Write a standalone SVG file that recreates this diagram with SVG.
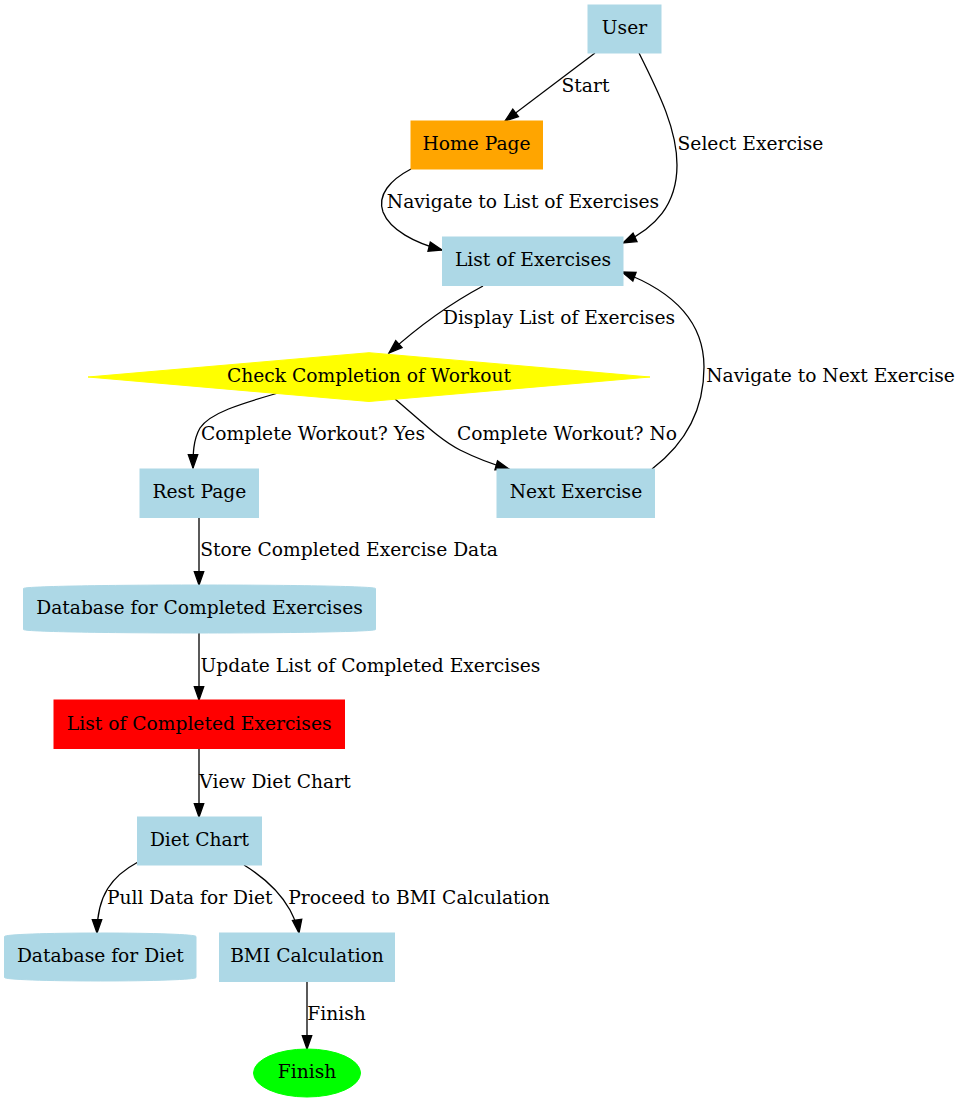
<svg xmlns="http://www.w3.org/2000/svg" width="962" height="1103" viewBox="0 0 962 1103">
<style>
text{font-family:"DejaVu Serif","Liberation Serif",serif;font-size:18.67px;fill:#000;text-anchor:middle}
.e{fill:none;stroke:#000;stroke-width:1.3;marker-end:url(#ah)}
.lb{fill:#add8e6;stroke:#add8e6}
</style>
<defs>
<marker id="ah" markerUnits="userSpaceOnUse" markerWidth="18" markerHeight="14" viewBox="-2 -2 18 14" refX="13.3" refY="4.7" orient="auto">
<path d="M0,0 L13.3,4.7 L0,9.4 Z" fill="#000" stroke="#000" stroke-width="1.3"/>
</marker>
</defs>
<rect width="962" height="1103" fill="#fff"/>
<g id="edges">
<path class="e" d="M595,53 L505,121"/>
<path class="e" d="M639,53 C660,95 677,130 677,165 C677,205 655,228 623,243"/>
<path class="e" d="M411,169 C390,180 377,195 383,212 C390,230 415,243 442,250"/>
<path class="e" d="M483,286 C455,301 420,325 389,353"/>
<path class="e" d="M278,393 C240,404 210,413 200,428 C193,440 193,455 193,468"/>
<path class="e" d="M395,399 C420,420 440,440 460,450 C480,460 495,465 509,469"/>
<path class="e" d="M652,469 C690,440 704,405 704,367 C704,320 670,290 622,272"/>
<path class="e" d="M199,518 L199,585"/>
<path class="e" d="M199,633 L199,700"/>
<path class="e" d="M199,748 L199,817"/>
<path class="e" d="M138,862 C112,876 97,895 97,933"/>
<path class="e" d="M244,865 C265,878 280,892 290,910 C295,920 298,926 299,933"/>
<path class="e" d="M307,981 L307,1049"/>
<text x="585.5" y="91.7">Start</text>
<text x="750.5" y="150">Select Exercise</text>
<text x="523" y="207.7">Navigate to List of Exercises</text>
<text x="559" y="324">Display List of Exercises</text>
<text x="830.5" y="381.7">Navigate to Next Exercise</text>
<text x="313" y="439.5">Complete Workout? Yes</text>
<text x="567" y="439.5">Complete Workout? No</text>
<text x="349" y="556">Store Completed Exercise Data</text>
<text x="370.5" y="671.7">Update List of Completed Exercises</text>
<text x="275" y="787.5">View Diet Chart</text>
<text x="189.7" y="904.3">Pull Data for Diet</text>
<text x="419" y="904.3">Proceed to BMI Calculation</text>
<text x="336.5" y="1020">Finish</text>
</g>
<g id="user"><rect class="lb" x="588" y="5" width="73" height="48"/><text x="624.5" y="34">User</text></g>
<g id="home"><rect x="411" y="121" width="131.5" height="48" fill="#ffa500" stroke="#ffa500"/><text x="476.5" y="150">Home Page</text></g>
<g id="list"><rect class="lb" x="442.5" y="237" width="180.5" height="48.5"/><text x="533" y="266">List of Exercises</text></g>
<g id="check"><polygon points="88,377 369,352.7 650,377 369,401.5" fill="#ffff00" stroke="#ffff00"/><text x="369" y="381.7">Check Completion of Workout</text></g>
<g id="rest"><rect class="lb" x="140" y="469" width="118.5" height="48.5"/><text x="199.4" y="497.5">Rest Page</text></g>
<g id="next"><rect class="lb" x="497" y="469" width="157.5" height="48.5"/><text x="576" y="497.5">Next Exercise</text></g>
<g id="dbcompleted"><path class="lb" d="M23.5,588.5 C23.5,586.5 102.3,585 199.5,585 C296.7,585 375.5,586.5 375.5,588.5 L375.5,629.5 C375.5,631.5 296.7,633 199.5,633 C102.3,633 23.5,631.5 23.5,629.5 Z"/><text x="199.5" y="614">Database for Completed Exercises</text></g>
<g id="completed"><rect x="54" y="700" width="290.5" height="48.5" fill="#ff0000" stroke="#ff0000"/><text x="199.2" y="729.5">List of Completed Exercises</text></g>
<g id="diet"><rect class="lb" x="137.5" y="817" width="124" height="48"/><text x="199.5" y="846">Diet Chart</text></g>
<g id="dbdiet"><path class="lb" d="M4.5,936.5 C4.5,934.5 47.5,933 100.3,933 C153.1,933 196,934.5 196,936.5 L196,977.5 C196,979.5 153.1,981 100.3,981 C47.5,981 4.5,979.5 4.5,977.5 Z"/><text x="100.3" y="962">Database for Diet</text></g>
<g id="bmi"><rect class="lb" x="219.5" y="933" width="175" height="48.5"/><text x="307" y="962">BMI Calculation</text></g>
<g id="finish"><ellipse cx="307" cy="1073" rx="53.5" ry="24" fill="#00ff00" stroke="#00ff00"/><text x="307" y="1078">Finish</text></g>
</svg>
